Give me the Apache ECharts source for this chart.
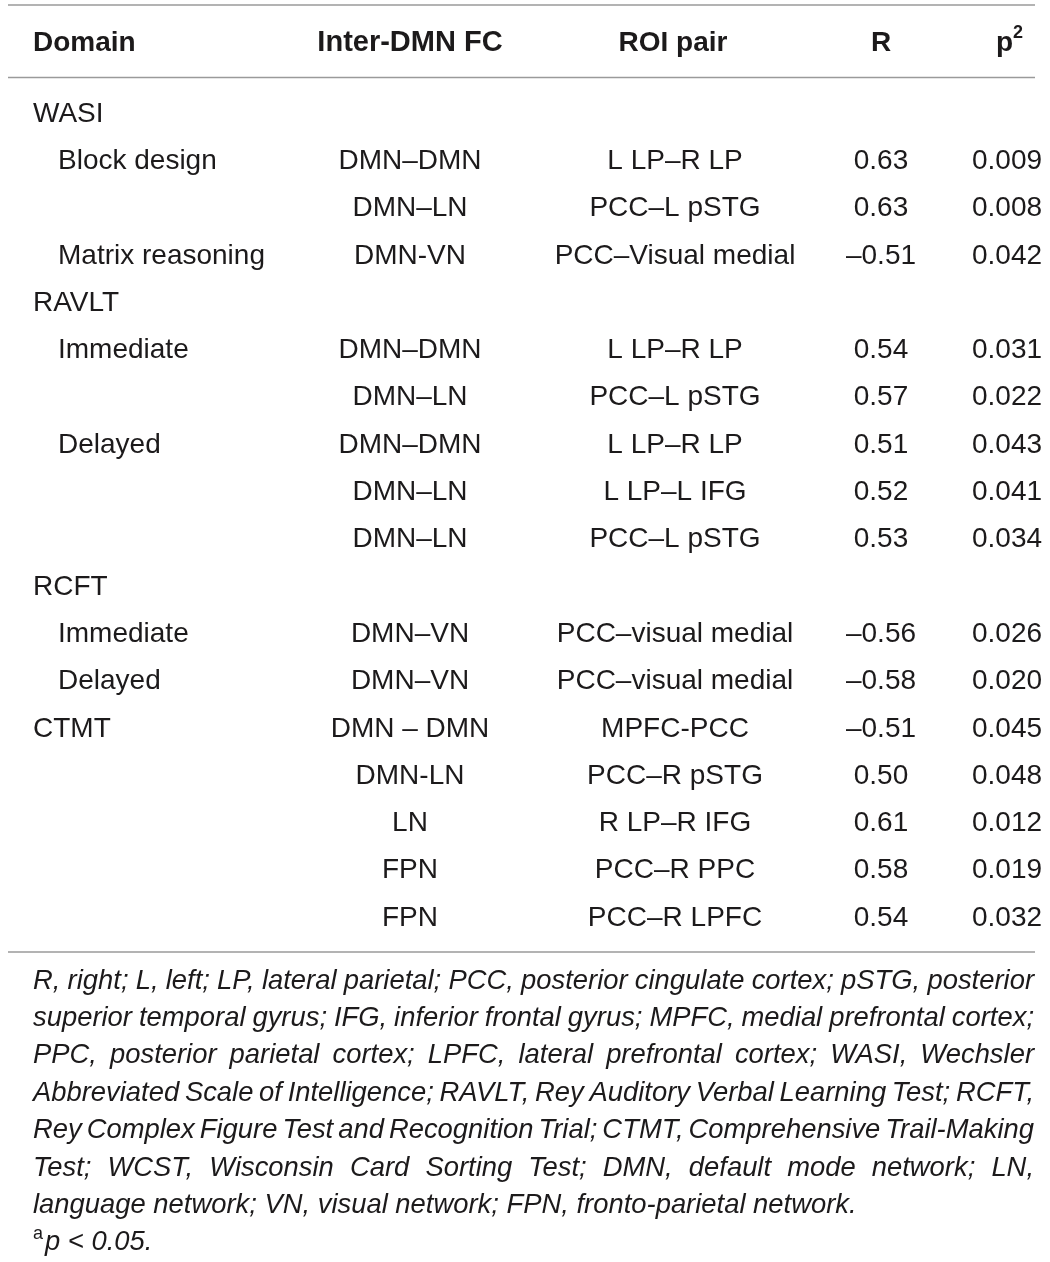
<!DOCTYPE html>
<html>
<head>
<meta charset="utf-8">
<script src="https://cdn.jsdelivr.net/npm/echarts@6/dist/echarts.min.js"></script>
<style>
html,body{margin:0;padding:0;background:#fff;}
#chart{width:1050px;height:1262px;}
</style>
</head>
<body>
<div id="chart"></div>
<script>
// ---- data ----
const headers = ['Domain', 'Inter-DMN FC', 'ROI pair', 'R', 'p'];
const headerSup = '2';
const domains = ['WASI', 'Block design', '', 'Matrix reasoning', 'RAVLT', 'Immediate', '', 'Delayed', '', '', 'RCFT', 'Immediate', 'Delayed', 'CTMT', '', '', '', ''];
const domainLevel = [0, 1, 1, 1, 0, 1, 1, 1, 1, 1, 0, 1, 1, 0, 0, 0, 0, 0];
const fcPairs = ['', 'DMN–DMN', 'DMN–LN', 'DMN-VN', '', 'DMN–DMN', 'DMN–LN', 'DMN–DMN', 'DMN–LN', 'DMN–LN', '', 'DMN–VN', 'DMN–VN', 'DMN – DMN', 'DMN-LN', 'LN', 'FPN', 'FPN'];
const roiPairs = ['', 'L LP–R LP', 'PCC–L pSTG', 'PCC–Visual medial', '', 'L LP–R LP', 'PCC–L pSTG', 'L LP–R LP', 'L LP–L IFG', 'PCC–L pSTG', '', 'PCC–visual medial', 'PCC–visual medial', 'MPFC-PCC', 'PCC–R pSTG', 'R LP–R IFG', 'PCC–R PPC', 'PCC–R LPFC'];
const rValues = [null, 0.63, 0.63, -0.51, null, 0.54, 0.57, 0.51, 0.52, 0.53, null, -0.56, -0.58, -0.51, 0.50, 0.61, 0.58, 0.54];
const pValues = [null, 0.009, 0.008, 0.042, null, 0.031, 0.022, 0.043, 0.041, 0.034, null, 0.026, 0.020, 0.045, 0.048, 0.012, 0.019, 0.032];
const footnoteLines = [
  'R, right; L, left; LP, lateral parietal; PCC, posterior cingulate cortex; pSTG, posterior',
  'superior temporal gyrus; IFG, inferior frontal gyrus; MPFC, medial prefrontal cortex;',
  'PPC, posterior parietal cortex; LPFC, lateral prefrontal cortex; WASI, Wechsler',
  'Abbreviated Scale of Intelligence; RAVLT, Rey Auditory Verbal Learning Test; RCFT,',
  'Rey Complex Figure Test and Recognition Trial; CTMT, Comprehensive Trail-Making',
  'Test; WCST, Wisconsin Card Sorting Test; DMN, default mode network; LN,',
  'language network; VN, visual network; FPN, fronto-parietal network.'
];
const footnoteSig = ['a', 'p < 0.05.'];

// ---- layout / style ----
const FONT = '"Liberation Sans", Arial, Helvetica, sans-serif';
const TXT = '#1c1a1b';
const LINE = '#9a9a9a';
const W = 1050, H = 1262;
const rowFirst = 114, rowLast = 918;
const nRows = domains.length;
const band = (rowLast - rowFirst) / (nRows - 1);
const colX = { domain0: 33, domain1: 58, fc: 410, roi: 675, r: 881, p: 1007 };

const fmtR = v => (v < 0 ? '–' : '') + Math.abs(v).toFixed(2);
const fmtP = v => v.toFixed(3);

function textSeries(name, xFn, texts, align) {
  const data = [];
  texts.forEach((t, i) => {
    if (t === '' || t === null) return;
    data.push({ value: [xFn(i), i], label: { formatter: t } });
  });
  return {
    name, type: 'scatter', data, symbolSize: 0, silent: true,
    itemStyle: { opacity: 1, color: TXT },
    emphasis: { disabled: true },
    label: {
      show: true, position: 'inside', align, verticalAlign: 'middle',
      fontFamily: FONT, fontSize: 28, color: TXT, opacity: 1
    }
  };
}

// measure text for footnote justification
const cv = document.createElement('canvas').getContext('2d');
const FN_SIZE = 27.4;
cv.font = 'italic ' + FN_SIZE + 'px ' + FONT;
const fnLeft = 33, fnRight = 1034, fnTop = 981, fnStep = 37.4;
const graphics = [];

// rules
[5, 77.5, 952].forEach(y => {
  graphics.push({ type: 'line', shape: { x1: 8, y1: y, x2: 1035, y2: y }, style: { stroke: LINE, lineWidth: 1.4 }, silent: true });
});

// header
const hdrY = 43;
const hdrStyle = { fontFamily: FONT, fontSize: 28, fontWeight: 'bold', fill: TXT, verticalAlign: 'middle' };
graphics.push({ type: 'text', x: colX.domain0, y: hdrY, style: Object.assign({ text: headers[0], align: 'left' }, hdrStyle) });
graphics.push({ type: 'text', x: colX.fc, y: hdrY, style: Object.assign({ text: headers[1], align: 'center' }, hdrStyle, { fontSize: 29 }) });
graphics.push({ type: 'text', x: colX.roi - 2, y: hdrY, style: Object.assign({ text: headers[2], align: 'center' }, hdrStyle) });
graphics.push({ type: 'text', x: colX.r, y: hdrY, style: Object.assign({ text: headers[3], align: 'center' }, hdrStyle) });
graphics.push({ type: 'text', x: 996, y: hdrY, style: Object.assign({ text: headers[4], align: 'left' }, hdrStyle) });
graphics.push({ type: 'text', x: 1013, y: 33, style: { text: headerSup, align: 'left', verticalAlign: 'middle', fontFamily: FONT, fontSize: 18, fontWeight: 'bold', fill: TXT } });

// footnote, justified
footnoteLines.forEach((line, li) => {
  const y = fnTop + li * fnStep;
  const words = line.split(' ');
  const widths = words.map(w => cv.measureText(w).width);
  const total = widths.reduce((a, b) => a + b, 0);
  const justify = li < footnoteLines.length - 1;
  const gap = justify ? (fnRight - fnLeft - total) / (words.length - 1) : cv.measureText(' ').width;
  let x = fnLeft;
  words.forEach((w, wi) => {
    graphics.push({ type: 'text', x, y, silent: true, style: { text: w, align: 'left', verticalAlign: 'middle', fontFamily: FONT, fontSize: FN_SIZE, fontStyle: 'italic', fill: TXT } });
    x += widths[wi] + gap;
  });
});
const sigY = fnTop + footnoteLines.length * fnStep;
graphics.push({ type: 'text', x: fnLeft, y: sigY - 9, style: { text: footnoteSig[0], align: 'left', verticalAlign: 'middle', fontFamily: FONT, fontSize: 18, fill: TXT } });
graphics.push({ type: 'text', x: fnLeft + 12, y: sigY, style: { text: footnoteSig[1], align: 'left', verticalAlign: 'middle', fontFamily: FONT, fontSize: FN_SIZE, fontStyle: 'italic', fill: TXT } });

const chart = echarts.init(document.getElementById('chart'), null, { renderer: 'canvas' });
chart.setOption({
  animation: false,
  backgroundColor: '#ffffff',
  grid: { left: 0, right: 0, top: rowFirst - band / 2, bottom: H - (rowLast + band / 2) },
  xAxis: { type: 'value', min: 0, max: W, show: false },
  yAxis: { type: 'category', data: domains.map((_, i) => i), inverse: true, show: false },
  series: [
    textSeries('domain', i => domainLevel[i] ? colX.domain1 : colX.domain0, domains, 'left'),
    textSeries('fc', () => colX.fc, fcPairs, 'center'),
    textSeries('roi', () => colX.roi, roiPairs, 'center'),
    textSeries('r', () => colX.r, rValues.map(v => v === null ? '' : fmtR(v)), 'center'),
    textSeries('p', () => colX.p, pValues.map(v => v === null ? '' : fmtP(v)), 'center')
  ],
  graphic: graphics
});
</script>
</body>
</html>
